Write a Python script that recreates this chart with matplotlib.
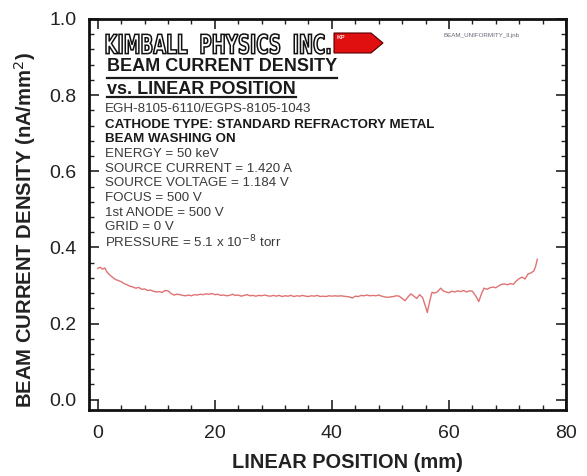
import matplotlib
matplotlib.use("Agg")
import matplotlib.pyplot as plt
from matplotlib.textpath import TextPath
from matplotlib.font_manager import FontProperties
from matplotlib.patches import PathPatch, Polygon
from matplotlib.transforms import Affine2D
from matplotlib.ticker import MultipleLocator
from matplotlib.lines import Line2D

plt.rcParams['font.family'] = ['Liberation Sans', 'DejaVu Sans']

# ---- data ----
position_mm = [
    0.0, 0.4, 0.8, 1.2, 1.6, 2.0, 2.5, 3.0, 3.5, 4.0, 4.5, 5.0, 5.5, 6.0, 6.5, 7.0,
    7.5, 8.0, 8.5, 9.0, 9.5, 10.0, 10.5, 11.0, 11.5, 12.0, 12.5, 13.0, 13.5, 14.0,
    14.5, 15.0, 15.5, 16.0, 16.5, 17.0, 17.5, 18.0, 18.5, 19.0, 19.5, 20.0, 20.5,
    21.0, 21.5, 22.0, 22.5, 23.0, 23.5, 24.0, 24.5, 25.0, 25.5, 26.0, 26.5, 27.0,
    27.5, 28.0, 28.5, 29.0, 29.5, 30.0, 30.5, 31.0, 31.5, 32.0, 32.5, 33.0, 33.5,
    34.0, 34.5, 35.0, 35.5, 36.0, 36.5, 37.0, 37.5, 38.0, 38.5, 39.0, 39.5, 40.0,
    40.5, 41.0, 41.5, 42.0, 42.5, 43.0, 43.5, 44.0, 44.5, 45.0, 45.5, 46.0, 46.5,
    47.0, 47.5, 48.0, 48.5, 49.0, 49.5, 50.0, 50.5, 51.0, 51.5, 52.0, 52.5, 53.0,
    53.5, 54.0, 54.5, 55.0, 55.5, 56.0, 56.3, 56.7, 57.1, 57.5, 58.0, 58.6, 59.0,
    59.5, 60.0, 60.5, 61.0, 61.5, 62.0, 62.5, 63.0, 63.5, 64.0, 64.6, 65.1, 65.6,
    66.0, 66.5, 67.0, 67.5, 68.0, 68.5, 69.0, 69.5, 70.0, 70.5, 71.0, 71.5, 72.0,
    72.5, 73.0, 73.5, 74.0, 74.5, 74.8, 75.1]
density = [
    0.345, 0.348, 0.343, 0.346, 0.335, 0.328, 0.322, 0.316, 0.313, 0.310, 0.305,
    0.302, 0.298, 0.296, 0.293, 0.295, 0.290, 0.291, 0.287, 0.288, 0.285, 0.283,
    0.284, 0.282, 0.287, 0.286, 0.279, 0.275, 0.277, 0.276, 0.274, 0.273, 0.275,
    0.273, 0.276, 0.275, 0.277, 0.276, 0.278, 0.277, 0.279, 0.276, 0.277, 0.274,
    0.275, 0.273, 0.274, 0.277, 0.274, 0.275, 0.272, 0.274, 0.276, 0.273, 0.274,
    0.272, 0.274, 0.273, 0.275, 0.273, 0.272, 0.274, 0.272, 0.274, 0.271, 0.273,
    0.272, 0.274, 0.271, 0.273, 0.272, 0.274, 0.272, 0.271, 0.273, 0.272, 0.274,
    0.271, 0.272, 0.271, 0.273, 0.272, 0.273, 0.272, 0.273, 0.272, 0.271, 0.270,
    0.267, 0.272, 0.271, 0.274, 0.273, 0.275, 0.273, 0.274, 0.273, 0.275, 0.272,
    0.270, 0.269, 0.270, 0.271, 0.273, 0.272, 0.266, 0.260, 0.270, 0.278, 0.272,
    0.266, 0.276, 0.268, 0.245, 0.229, 0.258, 0.282, 0.280, 0.283, 0.293, 0.286,
    0.283, 0.281, 0.285, 0.283, 0.286, 0.284, 0.287, 0.283, 0.286, 0.285, 0.272,
    0.258, 0.280, 0.293, 0.290, 0.294, 0.296, 0.294, 0.299, 0.303, 0.304, 0.302,
    0.305, 0.303, 0.312, 0.318, 0.322, 0.317, 0.330, 0.333, 0.338, 0.350, 0.369]

x_ticks = [0, 20, 40, 60, 80]
y_ticks = [0.0, 0.2, 0.4, 0.6, 0.8, 1.0]

info_lines = [
    ("EGH-8105-6110/EGPS-8105-1043", "normal"),
    ("CATHODE TYPE: STANDARD REFRACTORY METAL", "bold"),
    ("BEAM WASHING ON", "bold"),
    ("ENERGY = 50 keV", "normal"),
    ("SOURCE CURRENT = 1.420 A", "normal"),
    ("SOURCE VOLTAGE = 1.184 V", "normal"),
    ("FOCUS = 500 V", "normal"),
    ("1st ANODE = 500 V", "normal"),
    ("GRID = 0 V", "normal"),
    ("PRESSURE = 5.1 x 10$^{-8}$ torr", "normal"),
]

W, H = 587, 476
fig = plt.figure(figsize=(W / 100, H / 100), dpi=100)
ax = fig.add_axes([89 / W, 1 - 410 / H, (566 - 89) / W, (410 - 19) / H])

ax.plot(position_mm, density, color='#e07272', lw=1.0)

ax.set_xlim(-1.5, 80)
ax.set_ylim(-0.027, 1.0)
ax.set_xticks(x_ticks)
ax.set_yticks(y_ticks)
ax.set_yticklabels([f"{v:.1f}" for v in y_ticks])
ax.xaxis.set_minor_locator(MultipleLocator(4))
ax.yaxis.set_minor_locator(MultipleLocator(0.04))
ax.tick_params(which='both', direction='in', top=True, right=True, color='#222222')
ax.tick_params(which='major', length=7.5, width=1.2, labelsize=14, labelcolor='#222222')
ax.tick_params(axis='y', which='major', pad=9)
ax.tick_params(axis='x', which='major', pad=11)
ax.tick_params(which='minor', length=3.8, width=1.0)
for s in ax.spines.values():
    s.set_linewidth(2.0)
    s.set_color('#111111')

ax.set_xlabel("LINEAR POSITION (mm)", fontsize=14.4, fontweight='bold', color='#222222')
ax.xaxis.set_label_coords((347.5 - 89) / 477, (410 - 453) / 391)
ax.set_ylabel("BEAM CURRENT DENSITY (nA/mm$^{2}$)", fontsize=14.6, fontweight='bold',
              color='#222222')
ax.yaxis.set_label_coords((38 - 89) / 477, (410 - 230) / 391)

def fx(px):
    return px / W

def fy(py):
    return 1 - py / H

# ---- logo ----
tp = TextPath((0, 0), "KIMBALL  PHYSICS  INC.", size=10,
              prop=FontProperties(family='DejaVu Sans', weight='bold'))
bb = tp.get_extents()
x0, x1, ytop, ybot = 106, 330, 34, 54
tr = (Affine2D().translate(-bb.x0, -bb.y0)
      .scale((fx(x1) - fx(x0)) / bb.width, (fy(ytop) - fy(ybot)) / bb.height)
      .translate(fx(x0), fy(ybot)) + fig.transFigure)
fig.patches.append(PathPatch(tp, transform=tr, facecolor='white', edgecolor='#111111', lw=1.1))

tag = Polygon([(fx(334), fy(33)), (fx(371), fy(33)), (fx(383), fy(43)),
               (fx(371), fy(53)), (fx(334), fy(53))], closed=True,
              transform=fig.transFigure, facecolor='#e01010', edgecolor='#550000', lw=0.8)
fig.patches.append(tag)
fig.text(fx(337), fy(38), "KP", fontsize=4.5, color='#ffdddd', fontweight='bold',
         va='center', ha='left')

fig.text(fx(444), fy(36), "BEAM_UNIFORMITY_ll.jnb", fontsize=4.5, color='#666677',
         va='center', ha='left')

# ---- titles ----
t1 = fig.text(fx(107), fy(66.5), "BEAM CURRENT DENSITY", fontsize=13, fontweight='bold',
              color='#1a1a1a', va='center', ha='left')
t2 = fig.text(fx(107), fy(89), "vs. LINEAR POSITION", fontsize=13, fontweight='bold',
              color='#1a1a1a', va='center', ha='left')

py = 109
for i, (txt, wt) in enumerate(info_lines):
    fig.text(fx(105), fy(py), txt, fontsize=9.6, fontweight=wt,
             color='#1a1a1a' if wt == 'bold' else '#3a3a3a', va='center', ha='left')
    py += 15.5 if i == 0 else 14.7

fig.canvas.draw()
r = fig.canvas.get_renderer()
for t, uy in ((t1, 77.5), (t2, 97.5)):
    e = t.get_window_extent(r)
    fig.add_artist(Line2D([e.x0 / W, e.x1 / W], [fy(uy), fy(uy)], transform=fig.transFigure,
                          color='#1a1a1a', lw=1.6))

fig.savefig("out.png", dpi=100)
